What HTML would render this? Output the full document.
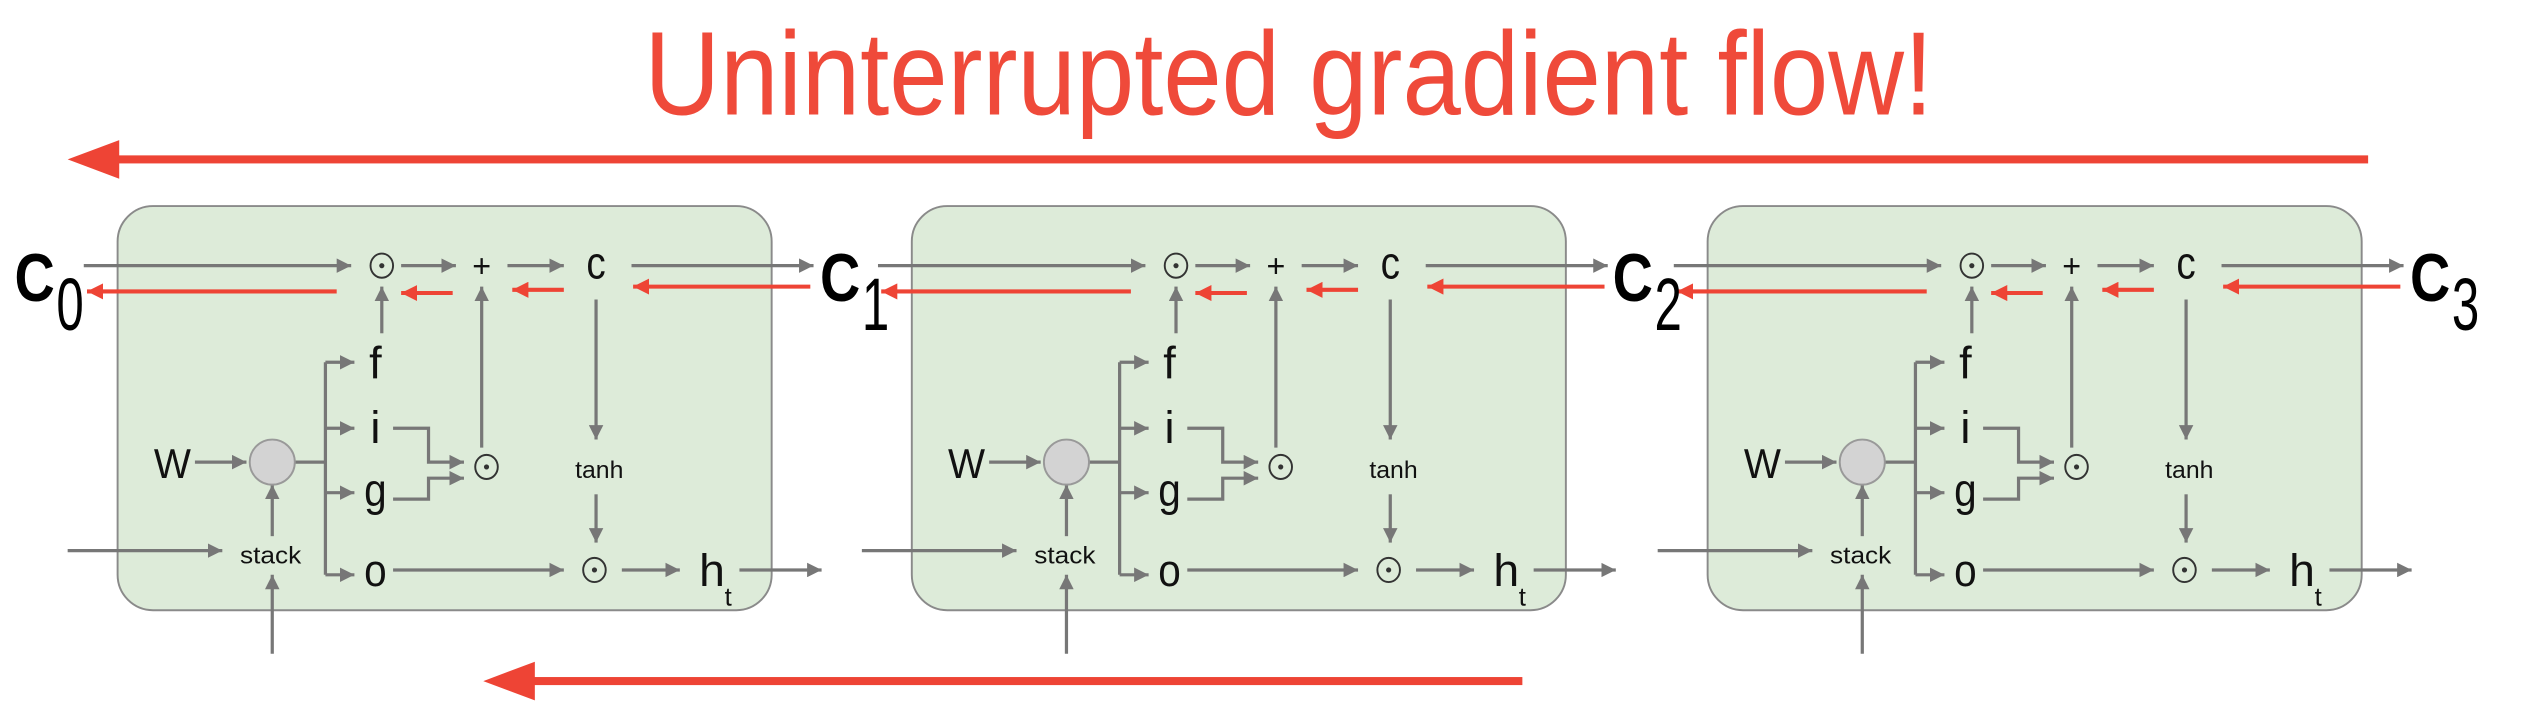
<!DOCTYPE html>
<html><head><meta charset="utf-8"><style>
html,body{margin:0;padding:0;background:#fff;}
svg{display:block;}
text{font-family:"Liberation Sans",sans-serif;}
</style></head><body>
<svg width="2526" height="702" viewBox="0 0 1568 436" preserveAspectRatio="none" xmlns="http://www.w3.org/2000/svg">
<defs>
<marker id="ag" viewBox="0 0 10 10" refX="10" refY="5" markerWidth="9" markerHeight="9" markerUnits="userSpaceOnUse" orient="auto"><path d="M0,0 L10,5 L0,10 z" fill="#777"/></marker>
<marker id="ar" viewBox="0 0 10 10" refX="10" refY="5" markerWidth="10" markerHeight="10" markerUnits="userSpaceOnUse" orient="auto"><path d="M0,0 L10,5 L0,10 z" fill="#ee4435"/></marker>
</defs>
<text x="800" y="71" font-size="74" fill="#ef4a3a" text-anchor="middle" textLength="800" lengthAdjust="spacingAndGlyphs">Uninterrupted gradient flow!</text>
<rect x="70" y="96.5" width="1400" height="5" fill="#ee4435"/>
<polygon points="42,99 74,87 74,111" fill="#ee4435"/>
<rect x="325" y="420.5" width="620" height="5" fill="#ee4435"/>
<polygon points="300,423 332,411 332,435" fill="#ee4435"/>

<g id="c1">
<rect x="73" y="128" width="406" height="251" rx="22" fill="#ddebd9" stroke="#8a8a8a" stroke-width="1.2"/>
<g stroke="#777" stroke-width="2" fill="none">
<line x1="52" y1="165" x2="218" y2="165" marker-end="url(#ag)"/>
<line x1="249" y1="165" x2="283" y2="165" marker-end="url(#ag)"/>
<line x1="315" y1="165" x2="350" y2="165" marker-end="url(#ag)"/>
<line x1="392" y1="165" x2="505" y2="165" marker-end="url(#ag)"/>
<line x1="237" y1="207" x2="237" y2="178" marker-end="url(#ag)"/>
<line x1="299" y1="278" x2="299" y2="178" marker-end="url(#ag)"/>
<line x1="370" y1="186" x2="370" y2="273" marker-end="url(#ag)"/>
<line x1="370" y1="307" x2="370" y2="337" marker-end="url(#ag)"/>
<line x1="386" y1="354" x2="422" y2="354" marker-end="url(#ag)"/>
<line x1="459" y1="354" x2="510" y2="354" marker-end="url(#ag)"/>
<line x1="121" y1="287" x2="153" y2="287" marker-end="url(#ag)"/>
<line x1="183" y1="287" x2="202" y2="287"/>
<line x1="202" y1="225" x2="202" y2="357"/>
<line x1="202" y1="225" x2="220" y2="225" marker-end="url(#ag)"/>
<line x1="202" y1="266" x2="220" y2="266" marker-end="url(#ag)"/>
<line x1="202" y1="306" x2="220" y2="306" marker-end="url(#ag)"/>
<line x1="202" y1="357" x2="220" y2="357" marker-end="url(#ag)"/>
<polyline points="244,266 266,266 266,287 288,287" marker-end="url(#ag)"/>
<polyline points="244,310 266,310 266,297 288,297" marker-end="url(#ag)"/>
<line x1="244" y1="354" x2="350" y2="354" marker-end="url(#ag)"/>
<line x1="42" y1="342" x2="138" y2="342" marker-end="url(#ag)"/>
<line x1="169" y1="333" x2="169" y2="301" marker-end="url(#ag)"/>
<line x1="169" y1="406" x2="169" y2="357" marker-end="url(#ag)"/>
</g>
<g stroke="#ee4435" stroke-width="2.5">
<line x1="209" y1="181" x2="54" y2="181" marker-end="url(#ar)"/>
<line x1="281" y1="182" x2="249" y2="182" marker-end="url(#ar)"/>
<line x1="350" y1="180" x2="318" y2="180" marker-end="url(#ar)"/>
<line x1="503" y1="178" x2="393" y2="178" marker-end="url(#ar)"/>
</g>
<g stroke="#333" stroke-width="1.2" fill="none">
<ellipse cx="237" cy="165" rx="7" ry="7.5"/>
<ellipse cx="302" cy="290" rx="7" ry="7.5"/>
<ellipse cx="369" cy="354" rx="7" ry="7.5"/>
</g>
<g fill="#333"><circle cx="237" cy="165" r="1.6"/><circle cx="302" cy="290" r="1.6"/><circle cx="369" cy="354" r="1.6"/></g>
<circle cx="169" cy="287" r="14" fill="#d3d3d3" stroke="#999" stroke-width="1.2"/>
<g fill="#111" text-anchor="middle">
<text x="299" y="172" font-size="20">+</text>
<text x="370" y="173" font-size="28" textLength="12" lengthAdjust="spacingAndGlyphs">c</text>
<text x="233" y="235" font-size="28">f</text>
<text x="233" y="275" font-size="28">i</text>
<text x="233" y="314" font-size="28" textLength="14" lengthAdjust="spacingAndGlyphs">g</text>
<text x="233" y="364" font-size="28" textLength="14" lengthAdjust="spacingAndGlyphs">o</text>
<text x="372" y="297" font-size="15" textLength="30" lengthAdjust="spacingAndGlyphs">tanh</text>
<text x="168" y="350" font-size="15" textLength="38" lengthAdjust="spacingAndGlyphs">stack</text>
<text x="442" y="364" font-size="28" textLength="16" lengthAdjust="spacingAndGlyphs">h</text>
<text x="452" y="376" font-size="16">t</text>
<text x="107" y="297" font-size="26" textLength="23" lengthAdjust="spacingAndGlyphs">W</text>
</g>
</g>
<use href="#c1" transform="translate(493,0)"/>
<use href="#c1" transform="translate(987,0)"/>

<g fill="#000" font-weight="bold">
<text x="9" y="187" font-size="42" textLength="25" lengthAdjust="spacingAndGlyphs">C</text><text x="35" y="205" font-size="46" font-weight="normal" textLength="17" lengthAdjust="spacingAndGlyphs">0</text>
<text x="509" y="187" font-size="42" textLength="25" lengthAdjust="spacingAndGlyphs">C</text><text x="535" y="205" font-size="46" font-weight="normal" textLength="17" lengthAdjust="spacingAndGlyphs">1</text>
<text x="1001" y="187" font-size="42" textLength="25" lengthAdjust="spacingAndGlyphs">C</text><text x="1027" y="205" font-size="46" font-weight="normal" textLength="17" lengthAdjust="spacingAndGlyphs">2</text>
<text x="1496" y="187" font-size="42" textLength="25" lengthAdjust="spacingAndGlyphs">C</text><text x="1522" y="205" font-size="46" font-weight="normal" textLength="17" lengthAdjust="spacingAndGlyphs">3</text>
</g>
</svg>
</body></html>
